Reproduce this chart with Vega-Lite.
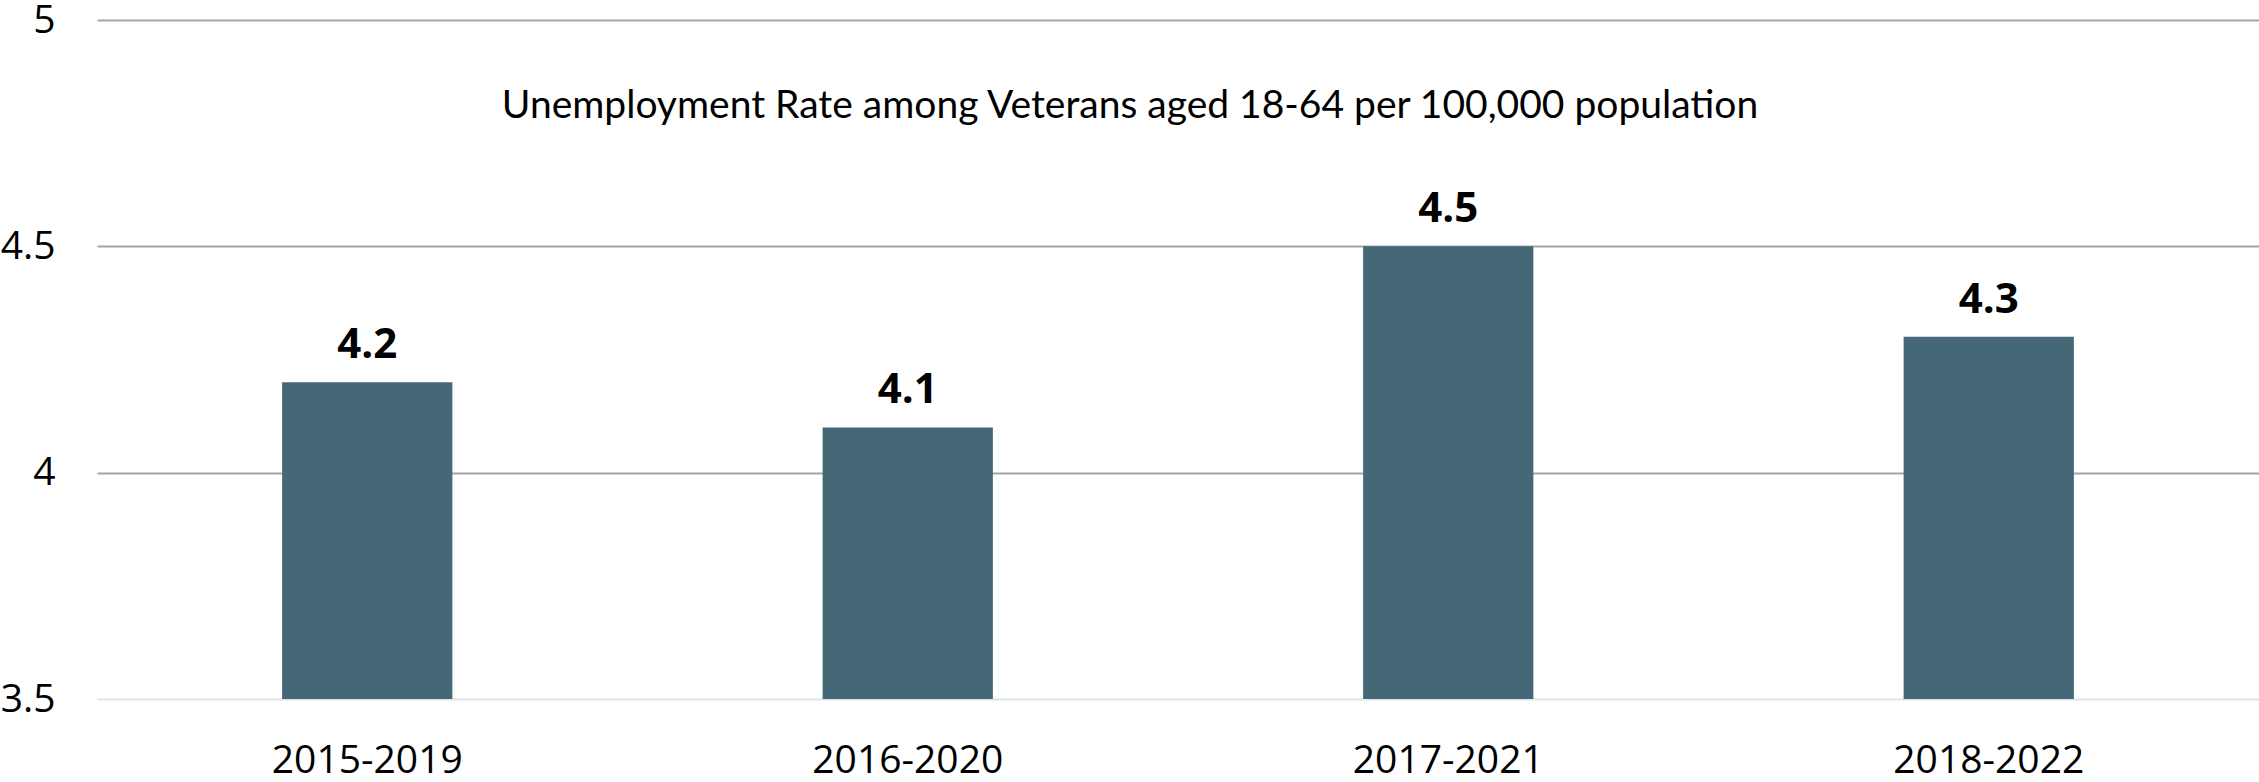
{
  "$schema": "https://vega.github.io/schema/vega-lite/v6.json",
  "autosize": {"type": "none"},
  "width": 2162,
  "height": 679,
  "padding": {"left": 97, "top": 20, "right": 0, "bottom": 83},
  "background": "white",
  "title": {
    "text": "Unemployment Rate among Veterans aged 18-64 per 100,000 population",
    "anchor": "middle",
    "orient": "top",
    "offset": 0,
    "baseline": "alphabetic",
    "dx": -48,
    "dy": 156,
    "font": "Lato",
    "fontSize": 39,
    "fontWeight": "normal",
    "color": "#000000"
  },
  "data": {
    "values": [
      {"period": "2015-2019", "rate": 4.2},
      {"period": "2016-2020", "rate": 4.1},
      {"period": "2017-2021", "rate": 4.5},
      {"period": "2018-2022", "rate": 4.3}
    ]
  },
  "encoding": {
    "x": {
      "field": "period",
      "type": "nominal",
      "sort": null,
      "title": null,
      "scale": {"paddingInner": 0.685, "paddingOuter": 0.3425},
      "axis": {
        "labelAngle": 0,
        "labelFont": "Open Sans",
        "labelFontSize": 39,
        "labelColor": "#000000",
        "labelPadding": 42,
        "labelLimit": 0,
        "ticks": false,
        "domain": false,
        "grid": false
      }
    },
    "y": {
      "field": "rate",
      "type": "quantitative",
      "title": null,
      "scale": {"domain": [3.5, 5], "zero": false, "nice": false},
      "axis": {
        "values": [3.5, 4, 4.5, 5],
        "format": "~g",
        "labelFont": "Open Sans",
        "labelFontSize": 39,
        "labelColor": "#000000",
        "labelPadding": 42,
        "ticks": false,
        "domain": false,
        "grid": true,
        "gridWidth": 2,
        "gridColor": {"condition": {"test": "datum.value == 3.5", "value": "#dde5ea"}, "value": "#a6a6a6"}
      }
    }
  },
  "layer": [
    {"mark": {"type": "bar", "color": "#456877", "clip": true}},
    {
      "mark": {
        "type": "text",
        "font": "Open Sans",
        "fontSize": 42,
        "fontWeight": "bold",
        "color": "#000000",
        "baseline": "alphabetic",
        "dy": -24
      },
      "encoding": {"text": {"field": "rate", "type": "quantitative", "format": ".1f"}}
    }
  ],
  "config": {"view": {"stroke": null}}
}
